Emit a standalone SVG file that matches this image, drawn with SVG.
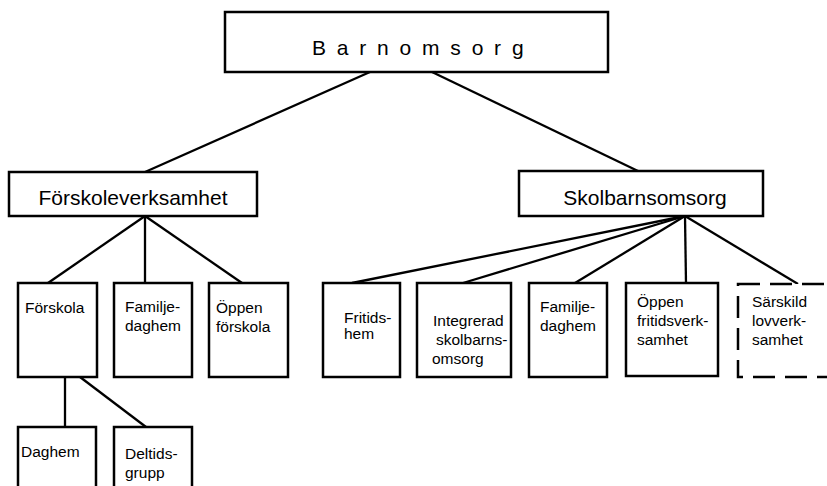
<svg xmlns="http://www.w3.org/2000/svg" width="827" height="486" viewBox="0 0 827 486">
<style>
.box{fill:#fff;stroke:#000;stroke-width:2.5}
.dash{fill:#fff;stroke:#000;stroke-width:2.5;stroke-dasharray:22 10}
.ln{stroke:#000;stroke-width:2.3;fill:none}
text{font-family:"Liberation Sans",Arial,sans-serif;fill:#000}
.big{font-size:21px}
.sm{font-size:15.5px}
</style>
<rect width="827" height="486" fill="#fff"/>
<g id="connectors">
<line class="ln" x1="370" y1="72" x2="145" y2="172"/>
<line class="ln" x1="432" y1="72" x2="638" y2="171"/>
<line class="ln" x1="145" y1="216" x2="48" y2="283"/>
<line class="ln" x1="145" y1="216" x2="145" y2="283"/>
<line class="ln" x1="145" y1="216" x2="242" y2="283"/>
<line class="ln" x1="65" y1="377" x2="65" y2="427"/>
<line class="ln" x1="80" y1="377" x2="146" y2="427"/>
<line class="ln" x1="685" y1="216" x2="352" y2="283"/>
<line class="ln" x1="685" y1="216" x2="463" y2="283"/>
<line class="ln" x1="685" y1="216" x2="575" y2="283"/>
<line class="ln" x1="685" y1="216" x2="686" y2="283"/>
<line class="ln" x1="685" y1="216" x2="798" y2="284"/>
</g>
<g id="barnomsorg">
<rect class="box" x="225" y="12" width="383" height="60"/>
<text class="big" x="312" y="55" letter-spacing="10.8">Barnomsorg</text>
</g>
<g id="forskoleverksamhet">
<rect class="box" x="9" y="172" width="248" height="44"/>
<text class="big" x="133" y="205" text-anchor="middle">Förskoleverksamhet</text>
</g>
<g id="skolbarnsomsorg">
<rect class="box" x="519" y="171" width="244" height="45"/>
<text class="big" x="645" y="205" text-anchor="middle">Skolbarnsomsorg</text>
</g>
<g id="forskola">
<rect class="box" x="18" y="283" width="79" height="94"/>
<text class="sm" x="25" y="313">Förskola</text>
</g>
<g id="familjedaghem1">
<rect class="box" x="114" y="283" width="78" height="94"/>
<text class="sm" x="125" y="312">Familje-</text>
<text class="sm" x="125" y="331">daghem</text>
</g>
<g id="oppenforskola">
<rect class="box" x="209" y="283" width="79" height="94"/>
<text class="sm" x="216" y="313">Öppen</text>
<text class="sm" x="216" y="332">förskola</text>
</g>
<g id="daghem">
<rect class="box" x="18" y="427" width="78" height="70"/>
<text class="sm" x="21" y="457">Daghem</text>
</g>
<g id="deltidsgrupp">
<rect class="box" x="114" y="427" width="78" height="70"/>
<text class="sm" x="125" y="459">Deltids-</text>
<text class="sm" x="125" y="478">grupp</text>
</g>
<g id="fritidshem">
<rect class="box" x="323" y="283" width="77" height="94"/>
<text class="sm" x="344" y="323">Fritids-</text>
<text class="sm" x="344" y="339">hem</text>
</g>
<g id="integrerad">
<rect class="box" x="417" y="283" width="94" height="94"/>
<text class="sm" x="433" y="326">Integrerad</text>
<text class="sm" x="436" y="345">skolbarns-</text>
<text class="sm" x="432" y="364">omsorg</text>
</g>
<g id="familjedaghem2">
<rect class="box" x="529" y="283" width="78" height="94"/>
<text class="sm" x="540" y="312">Familje-</text>
<text class="sm" x="540" y="331">daghem</text>
</g>
<g id="oppenfritids">
<rect class="box" x="626" y="283" width="92" height="93"/>
<text class="sm" x="637" y="307">Öppen</text>
<text class="sm" x="637" y="326">fritidsverk-</text>
<text class="sm" x="637" y="345">samhet</text>
</g>
<g id="sarskild">
<rect class="dash" x="738" y="284" width="100" height="93"/>
<text class="sm" x="752" y="307">Särskild</text>
<text class="sm" x="752" y="326">lovverk-</text>
<text class="sm" x="752" y="345">samhet</text>
</g>
</svg>
